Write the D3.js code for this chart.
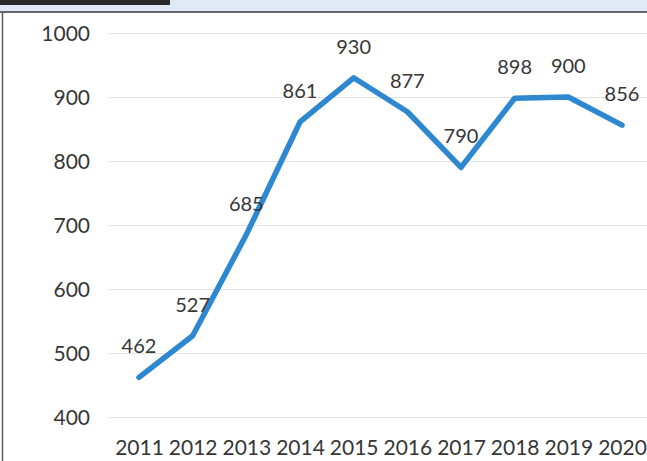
<!DOCTYPE html>
<html>
<head>
<meta charset="utf-8">
<script src="https://cdn.jsdelivr.net/npm/d3@7"></script>
<style>
  html, body { margin: 0; padding: 0; background: #ffffff; }
  svg { display: block; }
  text { font-family: Lato, "Open Sans", sans-serif; fill: #363636; }
</style>
</head>
<body>
<svg id="chart" width="647" height="461"></svg>
<script>
const years = ["2011","2012","2013","2014","2015","2016","2017","2018","2019","2020"];
const values = [462, 527, 685, 861, 930, 877, 790, 898, 900, 856];
const yTicks = [400, 500, 600, 700, 800, 900, 1000];

const W = 647, H = 461;
const plot = { left: 108, right: 647, top: 33, bottom: 417 };
const svg = d3.select("#chart");

// page frame (scan decoration)
svg.append("rect").attr("x", 0).attr("y", 0).attr("width", W).attr("height", 12).attr("fill", "#dfeaf5");
svg.append("rect").attr("x", 0).attr("y", 0).attr("width", 170).attr("height", 5).attr("fill", "#2a2a2a");
svg.append("line").attr("x1", 0).attr("x2", W).attr("y1", 12).attr("y2", 12).attr("stroke", "#3a3a3a").attr("stroke-width", 1.5);
svg.append("line").attr("x1", 2.5).attr("x2", 2.5).attr("y1", 12).attr("y2", H).attr("stroke", "#5a5a5a").attr("stroke-width", 1.5);

const x = d3.scalePoint().domain(years).range([139, 622]);
const y = d3.scaleLinear().domain([400, 1000]).range([plot.bottom, plot.top]);

// y axis with gridlines
const yAxis = svg.append("g")
  .attr("transform", `translate(${plot.left},0)`)
  .call(d3.axisLeft(y).tickValues(yTicks).tickSize(-(plot.right - plot.left)).tickPadding(18).tickFormat(d3.format("d")));
yAxis.select(".domain").remove();
yAxis.selectAll(".tick line").attr("stroke", "#e2e2e2").attr("stroke-width", 1.2);
yAxis.selectAll(".tick text").attr("font-size", 21).attr("fill", "#363636").attr("dy", "0.35em");

// x axis labels
const xAxis = svg.append("g")
  .attr("transform", `translate(0,${plot.bottom})`)
  .call(d3.axisBottom(x).tickSize(0).tickPadding(0));
xAxis.select(".domain").remove();
xAxis.selectAll(".tick text").attr("font-size", 21).attr("fill", "#363636").attr("y", 38).attr("dy", 0);

// line
const line = d3.line().x((d, i) => x(years[i])).y(d => y(d));
svg.append("path")
  .datum(values)
  .attr("d", line)
  .attr("fill", "none")
  .attr("stroke", "#2e88d0")
  .attr("stroke-width", 5.5)
  .attr("stroke-linejoin", "round")
  .attr("stroke-linecap", "round");

// data labels
svg.append("g").selectAll("text")
  .data(values)
  .join("text")
  .attr("x", (d, i) => x(years[i]))
  .attr("y", d => y(d) - 24)
  .attr("text-anchor", "middle")
  .attr("font-size", 20)
  .attr("fill", "#363636")
  .text(d => d);
</script>
</body>
</html>
